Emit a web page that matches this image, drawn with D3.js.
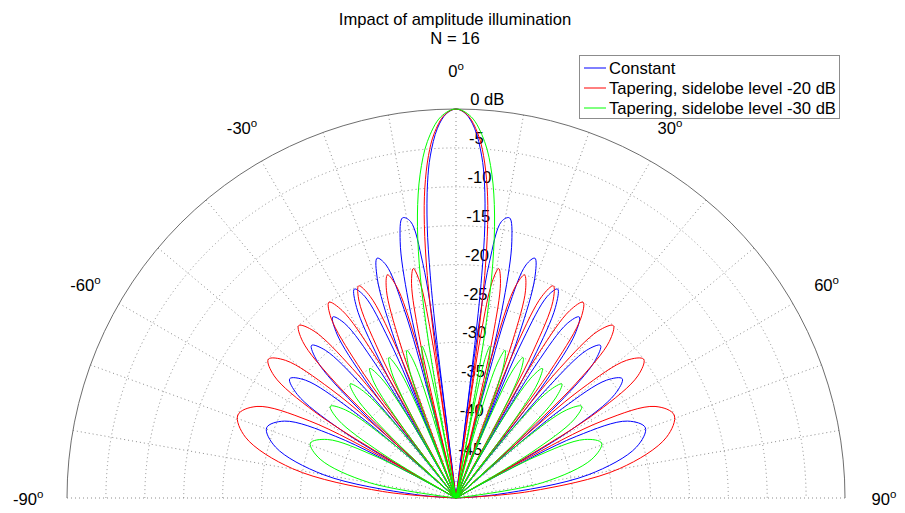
<!DOCTYPE html>
<html>
<head>
<meta charset="utf-8">
<script src="https://cdn.jsdelivr.net/npm/d3@7"></script>
<style>
  body { margin: 0; background: #fff; }
  svg { font-family: "Liberation Sans", Arial, sans-serif; }
</style>
</head>
<body>
<svg id="chart" width="905" height="513"></svg>
<script>
// pattern points: [angle in degrees, level in dB]
const constantData = [
  [-90,-50],[-85.04,-44.61],[-80.06,-32.76],[-74.26,-25.91],[-69.64,-24.04],[-65.85,-25.84],[-62.87,-32.63],[-61.49,-44.45],
  [-61.05,-50],[-60.60,-44.43],[-59.32,-32.55],[-56.88,-25.64],[-54.34,-23.70],[-51.95,-25.43],[-49.91,-32.16],[-48.92,-43.95],
  [-48.59,-50],[-48.27,-43.90],[-47.31,-31.99],[-45.44,-25.00],[-43.43,-22.99],[-41.49,-24.64],[-39.79,-31.29],[-38.96,-43.04],
  [-38.68,-50],[-38.41,-42.97],[-37.59,-31.02],[-35.98,-23.96],[-34.23,-21.85],[-32.51,-23.40],[-31.00,-29.95],[-30.25,-41.65],
  [-30,-50],[-29.75,-41.55],[-29.01,-29.54],[-27.55,-22.37],[-25.94,-20.13],[-24.36,-21.54],[-22.95,-27.96],[-22.26,-39.58],
  [-22.02,-50],[-21.79,-39.43],[-21.10,-27.34],[-19.72,-20.00],[-18.21,-17.55],[-16.71,-18.72],[-15.37,-24.90],[-14.70,-36.39],
  [-14.48,-50],[-14.26,-36.14],[-13.59,-23.91],[-12.27,-16.23],[-10.81,-13.34],[-9.35,-13.97],[-8.05,-19.54],[-7.40,-30.67],
  [-7.18,-50],[-6.95,-29.58],[-6.60,-21.26],[-6.03,-14.73],[-5.16,-9.33],[-4.30,-5.92],[-2.87,-2.41],[-1.43,-0.58],
  [0,0],
  [1.43,-0.58],[2.87,-2.41],[4.30,-5.92],[5.16,-9.33],[6.03,-14.73],[6.60,-21.26],[6.95,-29.58],[7.18,-50],
  [7.40,-30.67],[8.05,-19.54],[9.35,-13.97],[10.81,-13.34],[12.27,-16.23],[13.59,-23.91],[14.26,-36.14],[14.48,-50],
  [14.70,-36.39],[15.37,-24.90],[16.71,-18.72],[18.21,-17.55],[19.72,-20.00],[21.10,-27.34],[21.79,-39.43],[22.02,-50],
  [22.26,-39.58],[22.95,-27.96],[24.36,-21.54],[25.94,-20.13],[27.55,-22.37],[29.01,-29.54],[29.75,-41.55],[30,-50],
  [30.25,-41.65],[31.00,-29.95],[32.51,-23.40],[34.23,-21.85],[35.98,-23.96],[37.59,-31.02],[38.41,-42.97],[38.68,-50],
  [38.96,-43.04],[39.79,-31.29],[41.49,-24.64],[43.43,-22.99],[45.44,-25.00],[47.31,-31.99],[48.27,-43.90],[48.59,-50],
  [48.92,-43.95],[49.91,-32.16],[51.95,-25.43],[54.34,-23.70],[56.88,-25.64],[59.32,-32.55],[60.60,-44.43],[61.05,-50],
  [61.49,-44.45],[62.87,-32.63],[65.85,-25.84],[69.64,-24.04],[74.26,-25.91],[80.06,-32.76],[85.04,-44.61],[90,-50]
];

const taper20Data = [
  [-90,-50],[-84.92,-40.53],[-79.84,-28.68],[-73.90,-21.84],[-69.17,-20],[-65.30,-21.84],[-62.25,-28.68],[-60.84,-40.53],
  [-60.38,-50],[-59.93,-40.53],[-58.61,-28.68],[-56.11,-21.84],[-53.52,-20],[-51.08,-21.84],[-48.98,-28.68],[-47.97,-40.53],
  [-47.64,-50],[-47.30,-40.53],[-46.32,-28.68],[-44.41,-21.84],[-42.36,-20],[-40.38,-21.84],[-38.65,-28.68],[-37.80,-40.53],
  [-37.52,-50],[-37.24,-40.53],[-36.41,-28.68],[-34.77,-21.84],[-32.99,-20],[-31.25,-21.84],[-29.72,-28.68],[-28.96,-40.53],
  [-28.71,-50],[-28.46,-40.53],[-27.71,-28.68],[-26.24,-21.84],[-24.64,-20],[-23.06,-21.84],[-21.67,-28.68],[-20.98,-40.53],
  [-20.75,-50],[-20.53,-40.53],[-19.85,-28.68],[-18.51,-21.84],[-17.06,-20],[-15.65,-21.84],[-14.41,-28.68],[-13.81,-40.53],
  [-13.61,-50],[-13.42,-40.53],[-12.83,-28.68],[-11.71,-21.84],[-10.54,-20],[-9.49,-21.84],[-8.66,-28.68],[-8.30,-40.53],
  [-8.19,-50],[-7.87,-30.42],[-7.35,-21.17],[-6.60,-14.61],[-5.74,-9.94],[-4.59,-5.83],[-3.44,-3.10],[-1.72,-0.74],
  [0,0],
  [1.72,-0.74],[3.44,-3.10],[4.59,-5.83],[5.74,-9.94],[6.60,-14.61],[7.35,-21.17],[7.87,-30.42],[8.19,-50],
  [8.30,-40.53],[8.66,-28.68],[9.49,-21.84],[10.54,-20],[11.71,-21.84],[12.83,-28.68],[13.42,-40.53],[13.61,-50],
  [13.81,-40.53],[14.41,-28.68],[15.65,-21.84],[17.06,-20],[18.51,-21.84],[19.85,-28.68],[20.53,-40.53],[20.75,-50],
  [20.98,-40.53],[21.67,-28.68],[23.06,-21.84],[24.64,-20],[26.24,-21.84],[27.71,-28.68],[28.46,-40.53],[28.71,-50],
  [28.96,-40.53],[29.72,-28.68],[31.25,-21.84],[32.99,-20],[34.77,-21.84],[36.41,-28.68],[37.24,-40.53],[37.52,-50],
  [37.80,-40.53],[38.65,-28.68],[40.38,-21.84],[42.36,-20],[44.41,-21.84],[46.32,-28.68],[47.30,-40.53],[47.64,-50],
  [47.97,-40.53],[48.98,-28.68],[51.08,-21.84],[53.52,-20],[56.11,-21.84],[58.61,-28.68],[59.93,-40.53],[60.38,-50],
  [60.84,-40.53],[62.25,-28.68],[65.30,-21.84],[69.17,-20],[73.90,-21.84],[79.84,-28.68],[84.92,-40.53],[90,-50]
];

const taper30Data = [
  [-90,-50],[-79.93,-38.68],[-74.05,-31.84],[-69.36,-30],[-65.53,-31.84],[-62.51,-38.68],
  [-60.65,-50],[-58.90,-38.68],[-56.43,-31.84],[-53.87,-30],[-51.45,-31.84],[-49.38,-38.68],
  [-48.06,-50],[-46.76,-38.68],[-44.88,-31.84],[-42.86,-30],[-40.91,-31.84],[-39.21,-38.68],
  [-38.10,-50],[-37.00,-38.68],[-35.40,-31.84],[-33.66,-30],[-31.96,-31.84],[-30.47,-38.68],
  [-29.49,-50],[-28.53,-38.68],[-27.10,-31.84],[-25.56,-30],[-24.05,-31.84],[-22.72,-38.68],
  [-21.85,-50],[-20.99,-38.68],[-19.74,-31.84],[-18.39,-30],[-17.09,-31.84],[-15.97,-38.68],
  [-15.25,-50],[-14.56,-38.68],[-13.58,-31.84],[-12.59,-30],[-11.73,-31.84],[-11.07,-38.68],
  [-10.71,-50],[-10.37,-37.19],[-9.79,-27.11],[-8.92,-19.53],[-7.76,-13.29],[-6.32,-8.12],[-4.59,-4.04],[-2.29,-0.97],
  [0,0],
  [2.29,-0.97],[4.59,-4.04],[6.32,-8.12],[7.76,-13.29],[8.92,-19.53],[9.79,-27.11],[10.37,-37.19],[10.71,-50],
  [11.07,-38.68],[11.73,-31.84],[12.59,-30],[13.58,-31.84],[14.56,-38.68],[15.25,-50],
  [15.97,-38.68],[17.09,-31.84],[18.39,-30],[19.74,-31.84],[20.99,-38.68],[21.85,-50],
  [22.72,-38.68],[24.05,-31.84],[25.56,-30],[27.10,-31.84],[28.53,-38.68],[29.49,-50],
  [30.47,-38.68],[31.96,-31.84],[33.66,-30],[35.40,-31.84],[37.00,-38.68],[38.10,-50],
  [39.21,-38.68],[40.91,-31.84],[42.86,-30],[44.88,-31.84],[46.76,-38.68],[48.06,-50],
  [49.38,-38.68],[51.45,-31.84],[53.87,-30],[56.43,-31.84],[58.90,-38.68],[60.65,-50],
  [62.51,-38.68],[65.53,-31.84],[69.36,-30],[74.05,-31.84],[79.93,-38.68],[90,-50]
];

const seriesNames = ['Constant', 'Tapering, sidelobe level -20 dB', 'Tapering, sidelobe level -30 dB'];
const seriesColors = ['#0000ff', '#ff0000', '#00ff00'];
const ringLevels = [-45, -40, -35, -30, -25, -20, -15, -10, -5];
const ringLabels = ['-45', '-40', '-35', '-30', '-25', '-20', '-15', '-10', '-5', '0 dB'];
const ringLabelLevels = [-45, -40, -35, -30, -25, -20, -15, -10, -5, 0];
const spokeAngles = [-90, -80, -70, -60, -50, -40, -30, -20, -10, 0, 10, 20, 30, 40, 50, 60, 70, 80, 90];
const angleLabels = [-90, -60, -30, 0, 30, 60, 90];

const svg = d3.select('#chart');
const cx = 456, cy = 498, R = 389;
const fs = 16.6;

const rScale = d3.scaleLinear().domain([-50, 0]).range([0, R]).clamp(true);
const aScale = d3.scaleLinear().domain([-90, 90]).range([-Math.PI / 2, Math.PI / 2]);

const plot = svg.append('g').attr('transform', `translate(${cx},${cy})`);

// rings (dotted) + outer circle (solid)
ringLevels.forEach(lv => {
    const p = d3.path();
    p.arc(0, 0, rScale(lv), -Math.PI, 0);
    plot.append('path').attr('d', p.toString())
        .attr('fill', 'none').attr('stroke', '#8c8c8c')
        .attr('stroke-width', 1).attr('stroke-dasharray', '1,3');
});

// spokes
plot.selectAll('line.spoke')
    .data(spokeAngles)
    .join('line')
    .attr('class', 'spoke')
    .attr('x1', 0).attr('y1', 0)
    .attr('x2', d => R * Math.sin(aScale(d)))
    .attr('y2', d => -R * Math.cos(aScale(d)))
    .attr('stroke', '#8c8c8c')
    .attr('stroke-width', 1)
    .attr('stroke-dasharray', '1,3');

const outer = d3.path();
outer.arc(0, 0, rScale(0), -Math.PI, 0);
plot.append('path').attr('d', outer.toString())
    .attr('fill', 'none').attr('stroke', '#6e6e6e').attr('stroke-width', 1);

// angle labels
angleLabels.forEach(ang => {
    const t = plot.append('text')
        .attr('x', 1.1 * R * Math.sin(aScale(ang)))
        .attr('y', -1.1 * R * Math.cos(aScale(ang)) + 7)
        .attr('text-anchor', 'middle')
        .attr('font-size', fs)
        .text(ang);
    t.append('tspan').attr('dy', -7).attr('font-size', 11.5).text('o');
});

// dB labels next to the 0 deg spoke
plot.selectAll('text.rlab')
    .data(ringLabelLevels)
    .join('text')
    .attr('class', 'rlab')
    .attr('x', d => 1 + 0.034 * rScale(d))
    .attr('y', d => -rScale(d) - 4)
    .attr('font-size', fs)
    .text((d, i) => ringLabels[i]);

// pattern lines, one path piece per lobe (split at the nulls)
function splitLobes(points) {
    const lobes = [];
    let cur = [points[0]];
    for (let i = 1; i < points.length; i++) {
        cur.push(points[i]);
        if (points[i][1] <= -50) { lobes.push(cur); cur = [points[i]]; }
    }
    if (cur.length > 1) lobes.push(cur);
    return lobes;
}

const radialLine = d3.lineRadial()
    .angle(d => aScale(d[0]))
    .radius(d => rScale(d[1]))
    .curve(d3.curveCatmullRom.alpha(0.5));

[constantData, taper20Data, taper30Data].forEach((series, i) => {
    plot.append('path')
        .attr('d', splitLobes(series).map(l => radialLine(l)).join(''))
        .attr('fill', 'none')
        .attr('stroke', seriesColors[i])
        .attr('stroke-width', 1);
});

// title
svg.append('text').attr('x', 455).attr('y', 25).attr('text-anchor', 'middle')
    .attr('font-size', fs).text('Impact of amplitude illumination');
svg.append('text').attr('x', 455).attr('y', 44).attr('text-anchor', 'middle')
    .attr('font-size', fs).text('N = 16');

// legend
const legend = svg.append('g').attr('transform', 'translate(579,55)');
legend.append('rect').attr('x', 0.5).attr('y', 0.5).attr('width', 260).attr('height', 63)
    .attr('fill', '#fff').attr('stroke', '#8c8c8c');
seriesNames.forEach((name, i) => {
    legend.append('line')
        .attr('x1', 5).attr('x2', 27)
        .attr('y1', 13 + i * 20).attr('y2', 13 + i * 20)
        .attr('stroke', seriesColors[i]).attr('stroke-width', 1);
    legend.append('text')
        .attr('x', 30).attr('y', 18.5 + i * 20)
        .attr('font-size', fs)
        .text(name);
});
</script>
</body>
</html>
